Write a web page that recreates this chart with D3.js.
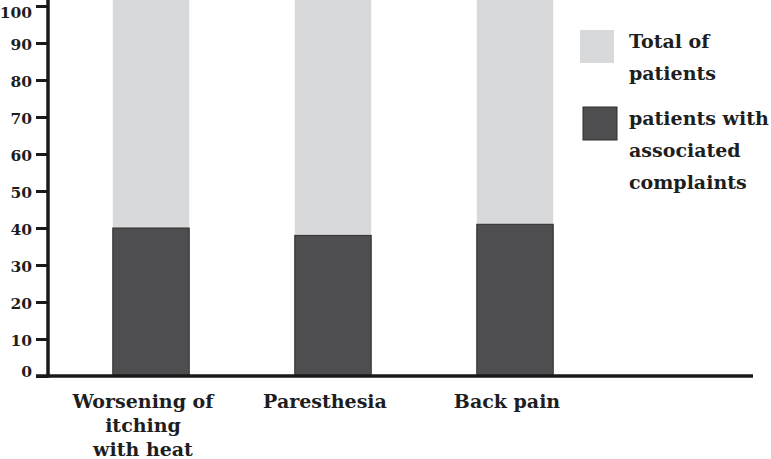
<!DOCTYPE html>
<html>
<head>
<meta charset="utf-8">
<script src="https://cdn.jsdelivr.net/npm/d3@7"></script>
<style>
  body { margin: 0; background: #fff; }
  text { font-family: "DejaVu Serif", serif; font-weight: bold; fill: #1e1e1e; }
</style>
</head>
<body>
<svg id="chart" width="771" height="459"></svg>
<script>
// values (percent)
const categories = ['Worsening of itching with heat', 'Paresthesia', 'Back pain'];
const categoryLines = [['Worsening of', 'itching', 'with heat'], ['Paresthesia'], ['Back pain']];
const totalPatients = [100, 100, 100];
const withComplaints = [40, 38, 41];
const yTicks = [0, 10, 20, 30, 40, 50, 60, 70, 80, 90, 100];
const legendLabels = [['Total of', 'patients'], ['patients with', 'associated', 'complaints']];

const lightGrey = '#d8d9db';
const darkGrey = '#4e4e50';
const axisColor = '#1a1a1a';

const svg = d3.select('#chart');

const x = d3.scaleBand()
  .domain(categories)
  .range([60, 606])
  .paddingInner(0.58)
  .paddingOuter(0.29);

const y = d3.scaleLinear()
  .domain([0, 100])
  .range([376, 6]);

// bars: light total behind, dark subset in front
svg.append('g')
  .selectAll('rect')
  .data(categories)
  .enter()
  .append('rect')
  .attr('x', d => x(d))
  .attr('y', (d, i) => y(totalPatients[i]) - 6)
  .attr('width', x.bandwidth())
  .attr('height', (d, i) => y(0) - y(totalPatients[i]) + 6)
  .attr('fill', lightGrey);

svg.append('g')
  .selectAll('rect')
  .data(categories)
  .enter()
  .append('rect')
  .attr('x', d => x(d))
  .attr('y', (d, i) => y(withComplaints[i]))
  .attr('width', x.bandwidth())
  .attr('height', (d, i) => y(0) - y(withComplaints[i]))
  .attr('fill', darkGrey)
  .attr('stroke', '#2e2e2e')
  .attr('stroke-width', 1);

// y axis
const yAxis = svg.append('g')
  .attr('transform', 'translate(48,0)')
  .call(d3.axisLeft(y).tickValues(yTicks).tickSize(12).tickPadding(6));
yAxis.select('.domain').remove();
yAxis.selectAll('.tick line').attr('stroke', axisColor).attr('stroke-width', 3);
yAxis.selectAll('.tick text')
  .attr('x', -16)
  .attr('dy', d => d === 0 ? '0' : d === 100 ? '0.75em' : '0.45em')
  .style('font-size', '15.5px')
  .style('font-family', '"DejaVu Serif", serif')
  .attr('fill', '#1e1e1e');

svg.append('line')
  .attr('x1', 48).attr('x2', 48)
  .attr('y1', 0).attr('y2', y(0) + 1.5)
  .attr('stroke', axisColor).attr('stroke-width', 3.5);

// x axis
svg.append('line')
  .attr('x1', 36).attr('x2', 753)
  .attr('y1', y(0)).attr('y2', y(0))
  .attr('stroke', axisColor).attr('stroke-width', 3.5);

const xLabels = svg.append('g')
  .selectAll('text')
  .data(categories)
  .enter()
  .append('text')
  .attr('text-anchor', 'middle')
  .attr('transform', d => `translate(${x(d) + x.bandwidth() / 2 - 8},408)`)
  .style('font-size', '19px');

xLabels.selectAll('tspan')
  .data((d, i) => categoryLines[i])
  .enter()
  .append('tspan')
  .attr('x', 0)
  .attr('y', (d, i) => i * 24)
  .text(d => d);

// legend
const legend = svg.append('g')
  .selectAll('g')
  .data(legendLabels)
  .enter()
  .append('g')
  .attr('transform', (d, i) => `translate(580,${i === 0 ? 30 : 107})`);

legend.append('rect')
  .attr('x', (d, i) => i * 3)
  .attr('width', 34)
  .attr('height', 33)
  .attr('fill', (d, i) => i === 0 ? lightGrey : darkGrey)
  .attr('stroke', (d, i) => i === 0 ? 'none' : '#2e2e2e');

legend.append('text')
  .style('font-size', '19px')
  .selectAll('tspan')
  .data(d => d)
  .enter()
  .append('tspan')
  .attr('x', 49)
  .attr('y', (d, i) => 18 + i * 32)
  .text(d => d);
</script>
</body>
</html>
